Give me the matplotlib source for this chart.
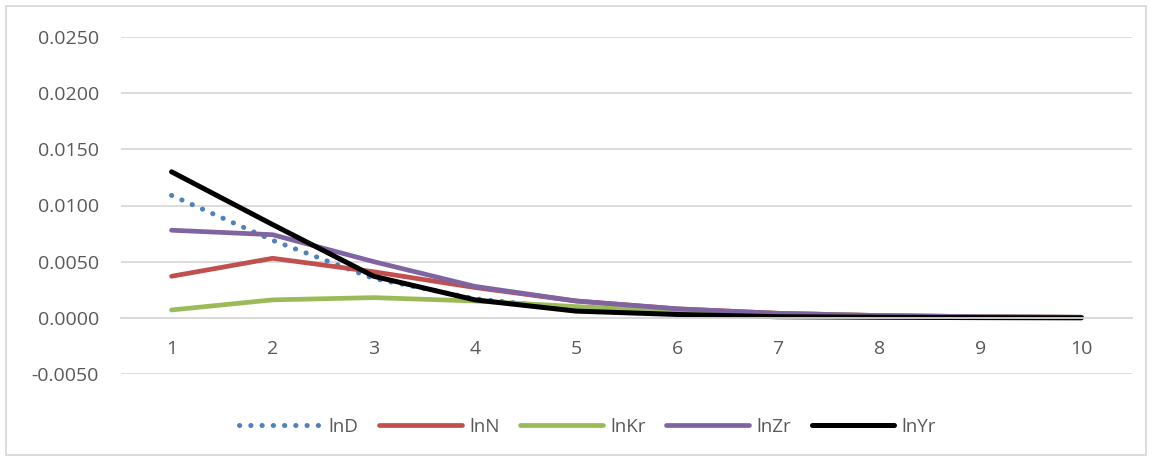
import numpy as np
import matplotlib.pyplot as plt
from matplotlib.patches import Rectangle

periodos = [1, 2, 3, 4, 5, 6, 7, 8, 9, 10]
lnD = [0.0109, 0.0069, 0.0035, 0.0017, 0.0008, 0.0004, 0.0002, 0.0001, 0.00005, 0.00002]
lnN = [0.0037, 0.0053, 0.0041, 0.0027, 0.0015, 0.0008, 0.0004, 0.0002, 0.0001, 0.00005]
lnKr = [0.0007, 0.0016, 0.0018, 0.0015, 0.0010, 0.0006, 0.0004, 0.0002, 0.0001, 0.00005]
lnZr = [0.0078, 0.0074, 0.0050, 0.0028, 0.0015, 0.0008, 0.0004, 0.0002, 0.0001, 0.00005]
lnYr = [0.0130, 0.0083, 0.0037, 0.0016, 0.0006, 0.0003, 0.0001, 0.00005, 0.00002, 0.0]
y_ticks = [-0.005, 0.0, 0.005, 0.010, 0.015, 0.020, 0.025]

plt.rcParams['font.family'] = ['Open Sans', 'DejaVu Sans']
gris_texto = '#595959'
gris_linea = '#d9d9d9'

fig = plt.figure(figsize=(11.52, 4.59), dpi=100)
ax = fig.add_axes([121 / 1152, 1 - 374 / 459, (1132 - 121) / 1152, (374 - 37) / 459])

x = np.arange(len(periodos))
ax.plot(x, lnD, color='#4F81BD', lw=3.6, linestyle=(0, (0.05, 2.2)),
        dash_capstyle='round', label='lnD')
ax.plot(x, lnN, color='#C0504D', lw=3.4, solid_capstyle='round', label='lnN')
ax.plot(x, lnKr, color='#9BBB59', lw=3.4, solid_capstyle='round', label='lnKr')
ax.plot(x, lnZr, color='#8064A2', lw=3.4, solid_capstyle='round', label='lnZr')
ax.plot(x, lnYr, color='black', lw=3.6, solid_capstyle='round', label='lnYr')

ax.set_xlim(-0.5, len(periodos) - 0.5)
ax.set_ylim(-0.005, 0.025)
ax.set_yticks(y_ticks)
ax.set_yticklabels([f'{v:.4f}' for v in y_ticks])
ax.set_xticks(x)
ax.set_xticklabels([str(p) for p in periodos])
ax.grid(axis='y', color=gris_linea, lw=1.3)
ax.set_axisbelow(True)
for s in ['top', 'right', 'left']:
    ax.spines[s].set_visible(False)
ax.spines['bottom'].set_position(('data', 0))
ax.spines['bottom'].set_color(gris_linea)
ax.spines['bottom'].set_linewidth(1.3)
ax.tick_params(axis='both', length=0, labelsize=14, labelcolor=gris_texto)
ax.tick_params(axis='y', pad=16)
ax.tick_params(axis='x', pad=16)

ax.legend(loc='center', bbox_to_anchor=(0.51, (459 - 427) / 459), bbox_transform=fig.transFigure,
          ncol=5, frameon=False, fontsize=13.5, handlelength=4.4, columnspacing=1.1,
          handletextpad=0.4, labelcolor=gris_texto)

fig.patches.append(Rectangle((6 / 1152, 4 / 459), 1140 / 1152, 449 / 459, transform=fig.transFigure,
                             fill=False, edgecolor=gris_linea, lw=1.3))

fig.savefig('out.png', dpi=100)
plt.close(fig)
